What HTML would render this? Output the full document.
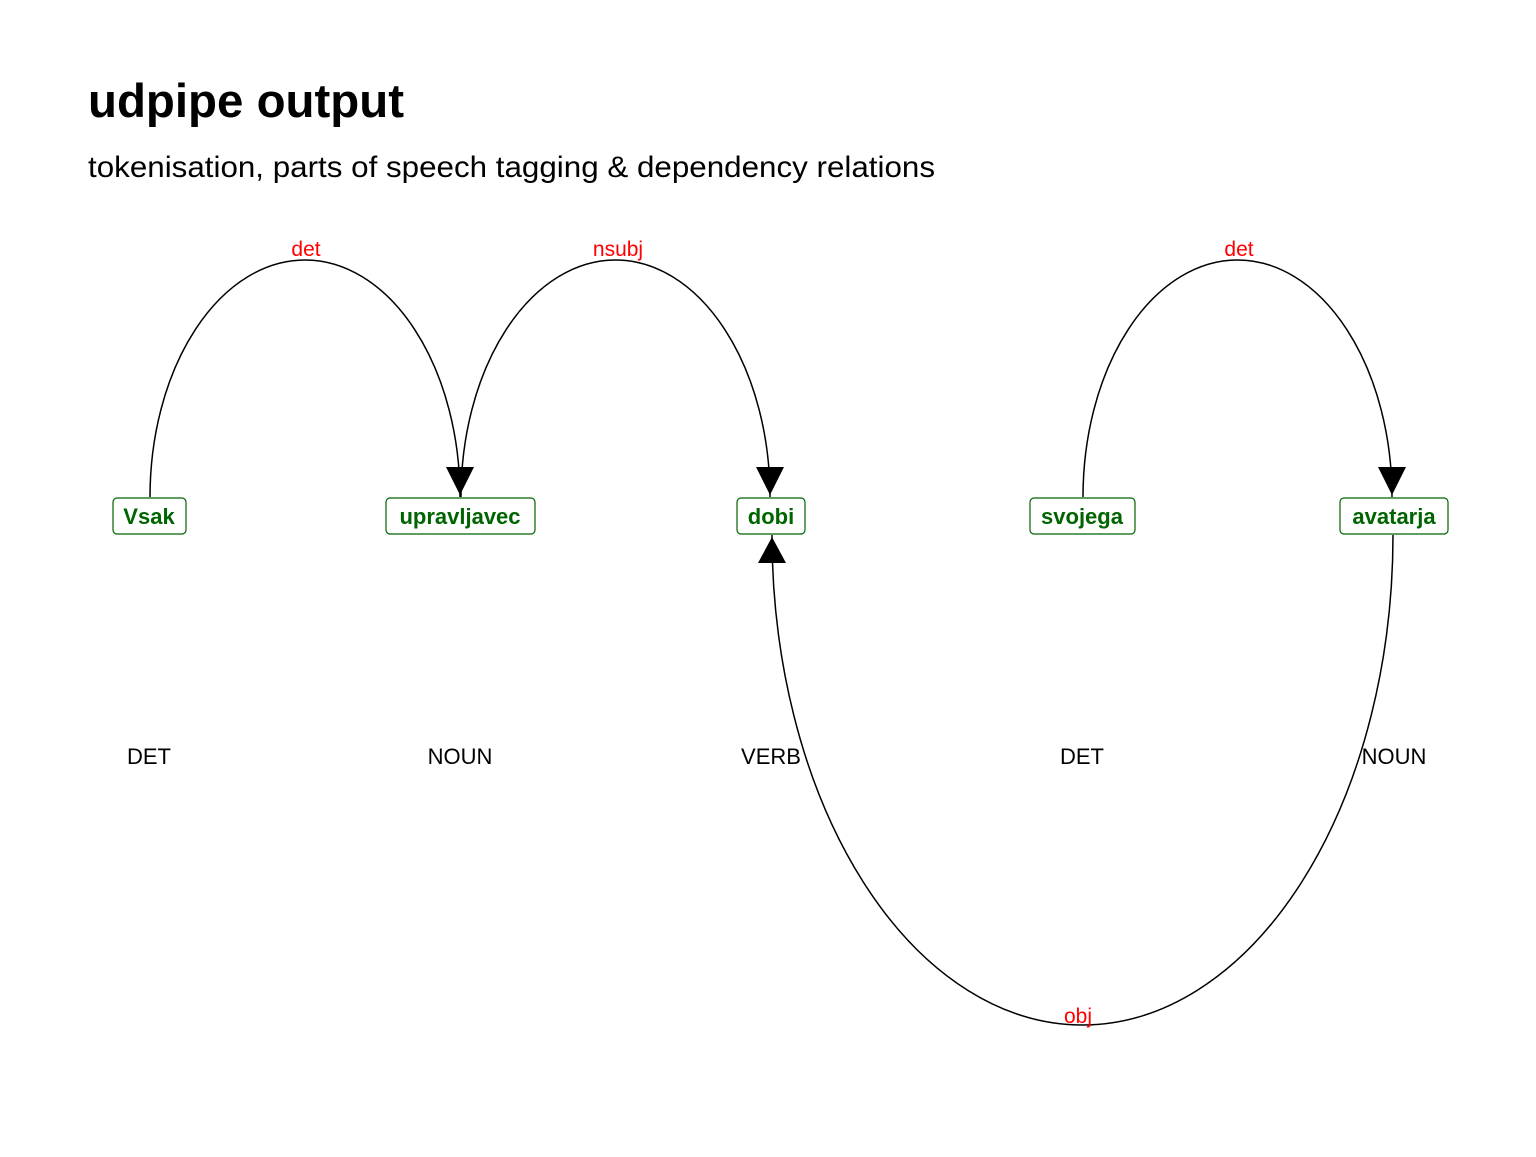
<!DOCTYPE html>
<html><head><meta charset="utf-8"><style>html,body{margin:0;padding:0;background:#fff}</style></head>
<body>
<svg width="1536" height="1152" xmlns="http://www.w3.org/2000/svg" font-family="Liberation Sans, sans-serif">
<rect width="1536" height="1152" fill="#fff"/>
<text x="88" y="117" font-size="47" font-weight="bold" textLength="316" lengthAdjust="spacingAndGlyphs">udpipe output</text>
<text x="88" y="177" font-size="30" textLength="847" lengthAdjust="spacingAndGlyphs">tokenisation, parts of speech tagging &amp; dependency relations</text>
<g fill="none" stroke="#000" stroke-width="1.5">
<path d="M150,497 A155,237 0 0 1 460,497"/>
<path d="M461,497 A154.5,237 0 0 1 770,497"/>
<path d="M1083,497 A154.5,237 0 0 1 1392,497"/>
<path d="M1393,535 A310.5,490 0 0 1 772,535"/>
</g>
<g fill="#000">
<polygon points="446,467 474,467 460,495"/>
<polygon points="756,467 784,467 770,495"/>
<polygon points="1378,467 1406,467 1392,495"/>
<polygon points="758,563 786,563 772,537"/>
</g>
<g fill="#f00" font-size="21" text-anchor="middle">
<text x="306" y="256">det</text>
<text x="618" y="256">nsubj</text>
<text x="1239" y="256">det</text>
<text x="1078" y="1023">obj</text>
</g>
<g fill="#fff" stroke="#006400" stroke-width="1.2">
<rect x="113" y="498" width="73" height="36" rx="4"/>
<rect x="386" y="498" width="149" height="36" rx="4"/>
<rect x="737" y="498" width="68" height="36" rx="4"/>
<rect x="1030" y="498" width="105" height="36" rx="4"/>
<rect x="1340" y="498" width="108" height="36" rx="4"/>
</g>
<g fill="#006400" font-size="22" font-weight="bold" text-anchor="middle">
<text x="149" y="524">Vsak</text>
<text x="460" y="524">upravljavec</text>
<text x="771" y="524">dobi</text>
<text x="1082" y="524">svojega</text>
<text x="1394" y="524">avatarja</text>
</g>
<g fill="#000" font-size="22" text-anchor="middle">
<text x="149" y="764">DET</text>
<text x="460" y="764">NOUN</text>
<text x="771" y="764">VERB</text>
<text x="1082" y="764">DET</text>
<text x="1394" y="764">NOUN</text>
</g>
</svg>
</body></html>
